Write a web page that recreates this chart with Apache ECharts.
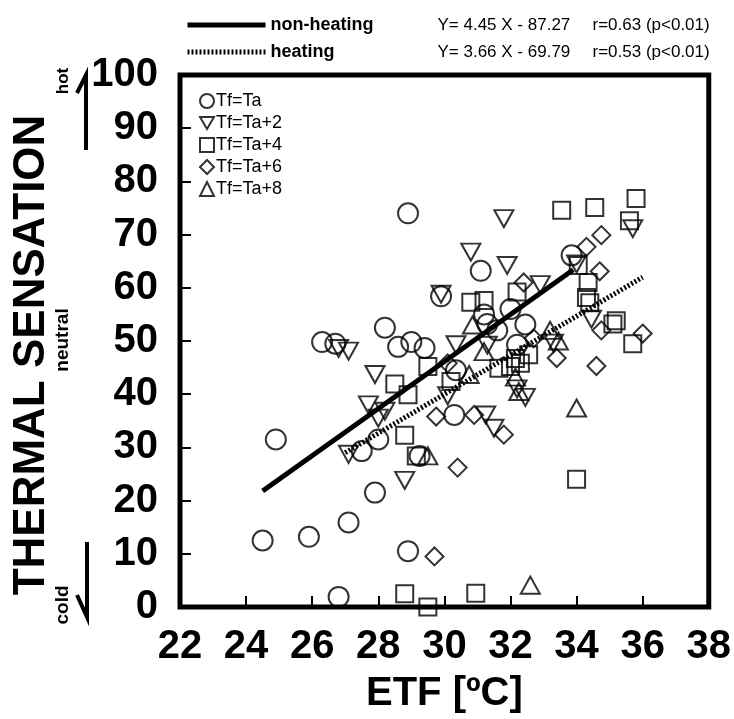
<!DOCTYPE html>
<html>
<head>
<meta charset="utf-8">
<script src="https://cdn.jsdelivr.net/npm/echarts@6/dist/echarts.min.js"></script>
<style>html,body{margin:0;padding:0;background:#fff;}#c{width:734px;height:719px;}</style>
</head>
<body>
<div id="c"></div>
<script>
// ---- data ----
var xTicks = [22, 24, 26, 28, 30, 32, 34, 36, 38];
var yTicks = [0, 10, 20, 30, 40, 50, 60, 70, 80, 90, 100];

var seriesNames = ['Tf=Ta', 'Tf=Ta+2', 'Tf=Ta+4', 'Tf=Ta+6', 'Tf=Ta+8'];

var tfTa = [[24.5,12.5],[24.9,31.5],[25.9,13.2],[26.3,49.8],[26.7,49.5],[26.8,1.9],[27.1,15.9],[27.5,29.3],
  [27.9,21.5],[28.0,31.5],[28.2,52.5],[28.6,48.9],[28.9,10.5],[28.9,74.0],[29.0,49.8],[29.4,48.7],[29.25,28.4],
  [29.9,58.4],[30.35,44.5],[30.3,36.1],[31.1,63.2],[31.2,55.0],[31.3,53.2],[31.6,52.0],[32.0,56.0],
  [32.45,53.1],[32.2,49.3],[33.85,66.1]];
var tfTa2 = [[26.8,48.6],[27.1,48.1],[27.1,28.7],[27.7,38.0],[27.9,43.7],[28.0,35.5],[28.2,36.8],[28.8,23.8],
  [29.9,58.8],[30.1,39.7],[30.35,49.3],[30.8,66.7],[31.25,36.1],[31.5,33.6],[31.8,73.0],[31.9,64.2],
  [32.2,41.0],[32.45,39.4],[32.9,60.6],[33.3,49.6],[34.0,64.5],[34.45,54.1],[35.7,71.1],[31.3,49.2]];
var tfTa4 = [[28.5,41.9],[28.9,39.9],[28.8,32.3],[28.8,2.5],[29.15,28.4],[29.5,0.0],[29.5,45.2],[30.2,42.4],
  [30.8,57.3],[31.2,57.6],[30.95,2.6],[31.65,44.9],[32.0,45.2],[32.15,46.7],[32.3,45.8],[32.2,59.2],
  [32.55,47.4],[33.55,74.6],[34.0,24.0],[34.05,64.2],[34.35,61.0],[34.3,58.2],[34.4,57.2],[34.55,75.1],
  [35.2,53.8],[35.1,53.2],[35.6,72.6],[35.7,49.5],[35.8,76.8]];
var tfTa6 = [[29.7,9.5],[29.75,35.8],[30.4,26.2],[30.9,36.1],[31.8,32.4],[32.4,61.0],[33.4,46.8],[34.3,67.7],
  [34.6,45.3],[34.7,63.1],[34.75,52.0],[34.75,69.9],[36.0,51.4],[30.1,45.8],[32.7,50.5]];
var tfTa8 = [[29.5,28.4],[30.75,43.7],[30.85,53.0],[32.15,43.2],[32.25,40.5],[33.2,52.0],[34.0,37.4],
  [32.6,4.1],[31.2,48.0],[33.45,50.0]];

var lineNames = ['non-heating', 'heating'];
var lineEquations = ['Y= 4.45 X - 87.27', 'Y= 3.66 X - 69.79'];
var lineStats = ['r=0.63 (p<0.01)', 'r=0.53 (p<0.01)'];
var nonHeatingLine = [[24.5,21.8],[33.9,63.4]];
var heatingLine = [[27.0,29.0],[36.0,62.0]];

// ---- chart ----
var chart = echarts.init(document.getElementById('c'), null, {renderer: 'canvas'});
var FONT = '"Liberation Sans", Arial, Helvetica, sans-serif';
var markerStyle = {color: 'rgba(0,0,0,0)', borderColor: '#000', borderWidth: 2};
var triDown = 'path://M0,0 L20,0 L10,17.3 Z';
var scatterDefs = [
  {data: tfTa, symbol: 'circle', size: 20},
  {data: tfTa2, symbol: triDown, size: [19, 17]},
  {data: tfTa4, symbol: 'rect', size: 17},
  {data: tfTa6, symbol: 'diamond', size: 18},
  {data: tfTa8, symbol: 'triangle', size: [19, 17]}
];
var series = scatterDefs.map(function (d, i) {
  return {
    name: seriesNames[i], type: 'scatter', data: d.data, symbol: d.symbol, symbolSize: d.size,
    itemStyle: markerStyle, z: 2, silent: true
  };
});
series.push({
  name: lineNames[0], type: 'line', data: nonHeatingLine, symbol: 'none', z: 3, color: '#000',
  itemStyle: {color: '#000'},
  lineStyle: {color: '#000', width: 5, type: 'solid'}
});
series.push({
  name: lineNames[1], type: 'line', data: heatingLine, symbol: 'none', z: 3, color: '#000',
  itemStyle: {color: '#000'},
  lineStyle: {color: '#000', width: 5, type: [2, 2]}
});

var option = {
  animation: false,
  backgroundColor: '#fff',
  textStyle: {fontFamily: FONT},
  grid: {left: 180, right: 22, top: 75, bottom: 110, show: true, borderColor: '#000', borderWidth: 5, backgroundColor: 'rgba(0,0,0,0)', containLabel: false},
  legend: [
    {
      data: lineNames, orient: 'vertical', left: 180, top: 11, itemWidth: 78, itemHeight: 14, itemGap: 9,
      selectedMode: false,
      itemStyle: {opacity: 0},
      lineStyle: {width: 5, color: '#000'},
      formatter: function (name) {
        var i = lineNames.indexOf(name);
        return '{a|' + name + '}{b|' + lineEquations[i] + '}{c|' + lineStats[i] + '}';
      },
      textStyle: {
        color: '#000', fontFamily: FONT,
        rich: {
          a: {fontSize: 18, fontWeight: 'bold', width: 167, fontFamily: FONT, color: '#000'},
          b: {fontSize: 17, width: 155, fontFamily: FONT, color: '#000'},
          c: {fontSize: 17, fontFamily: FONT, color: '#000'}
        }
      }
    },
    {
      data: seriesNames, orient: 'vertical', left: 194, top: 87, itemWidth: 14, itemHeight: 14, itemGap: 4,
      selectedMode: false,
      textStyle: {color: '#000', fontSize: 18, fontFamily: FONT, padding: [0, 0, 0, -3]}
    }
  ],
  xAxis: {
    type: 'value', min: 22, max: 38, interval: 2,
    name: 'ETF [ºC]', nameLocation: 'middle', nameGap: 67,
    nameTextStyle: {fontSize: 40, fontWeight: 'bold', color: '#000', fontFamily: FONT},
    axisLine: {show: false},
    axisTick: {show: true, inside: true, length: 11, lineStyle: {color: '#000', width: 2}},
    axisLabel: {fontSize: 40, fontWeight: 'bold', color: '#000', margin: 20, fontFamily: FONT,
      formatter: function (v) { return xTicks.indexOf(v) >= 0 ? String(v) : ''; }},
    splitLine: {show: false}
  },
  yAxis: {
    type: 'value', min: 0, max: 100, interval: 10,
    name: 'THERMAL SENSATION', nameLocation: 'middle', nameGap: 126, nameRotate: 90,
    nameTextStyle: {fontSize: 44, fontWeight: 'bold', color: '#000', fontFamily: FONT, padding: [0, 28, 0, 0]},
    axisLine: {show: false},
    axisTick: {show: true, inside: true, length: 11, lineStyle: {color: '#000', width: 2}},
    axisLabel: {fontSize: 40, fontWeight: 'bold', color: '#000', margin: 22, fontFamily: FONT,
      formatter: function (v) { return yTicks.indexOf(v) >= 0 ? String(v) : ''; }},
    splitLine: {show: false}
  },
  graphic: [
    {type: 'text', x: 63, y: 81, rotation: Math.PI / 2, style: {text: 'hot', font: 'bold 17px ' + FONT, fill: '#000', align: 'center', verticalAlign: 'middle'}},
    {type: 'text', x: 63, y: 340, rotation: Math.PI / 2, style: {text: 'neutral', font: 'bold 19px ' + FONT, fill: '#000', align: 'center', verticalAlign: 'middle'}},
    {type: 'text', x: 63, y: 605, rotation: Math.PI / 2, style: {text: 'cold', font: 'bold 19px ' + FONT, fill: '#000', align: 'center', verticalAlign: 'middle'}},
    {type: 'polyline', shape: {points: [[86, 150], [86, 75], [77, 93]]}, style: {stroke: '#000', lineWidth: 4, fill: null}},
    {type: 'polyline', shape: {points: [[87, 542], [87, 617], [77, 595]]}, style: {stroke: '#000', lineWidth: 4, fill: null}}
  ],
  series: series
};
chart.setOption(option);
</script>
</body>
</html>
